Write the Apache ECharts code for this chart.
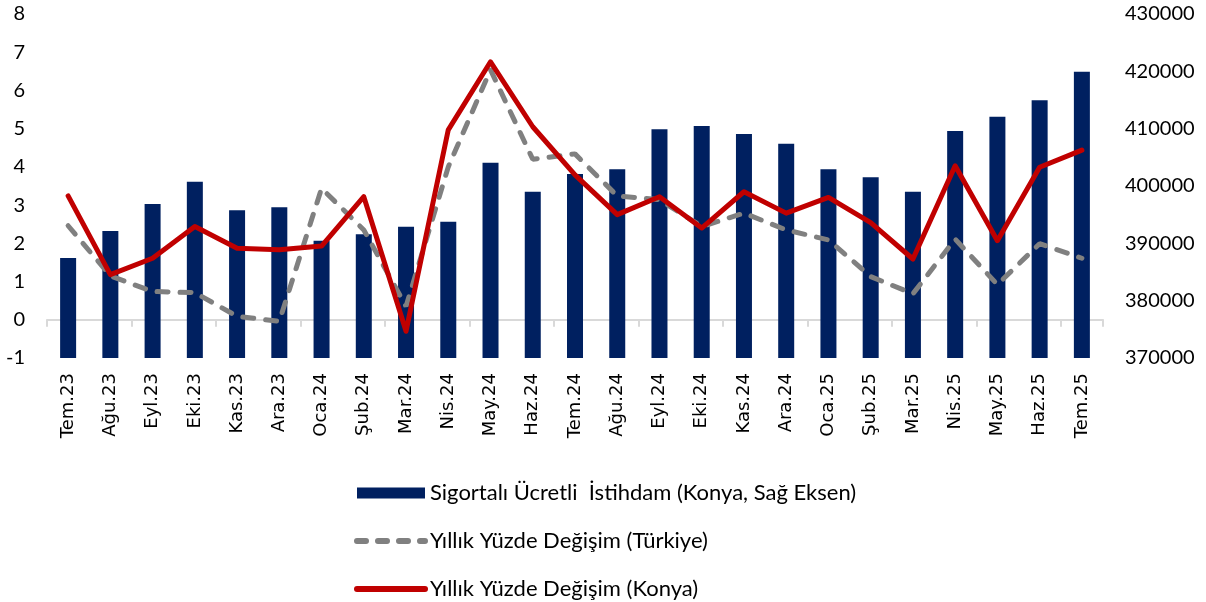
<!DOCTYPE html>
<html>
<head>
<meta charset="utf-8">
<script src="https://cdn.jsdelivr.net/npm/echarts@6/dist/echarts.min.js"></script>
<style>
html,body{margin:0;padding:0;background:#fff;}
#chart{width:1206px;height:602px;}
</style>
</head>
<body>
<div id="chart"></div>
<script>
const categories = ["Tem.23","Ağu.23","Eyl.23","Eki.23","Kas.23","Ara.23","Oca.24","Şub.24","Mar.24","Nis.24","May.24","Haz.24","Tem.24","Ağu.24","Eyl.24","Eki.24","Kas.24","Ara.24","Oca.25","Şub.25","Mar.25","Nis.25","May.25","Haz.25","Tem.25"];
const employmentKonya = [387440,392150,396860,400750,395760,396280,390460,391570,392900,393780,404070,399010,402090,402910,409890,410470,409070,407380,402910,401520,399010,409590,412090,414950,419940];
const changeTurkiye = [2.46,1.15,0.74,0.71,0.09,-0.04,3.44,2.35,0.35,4.0,6.54,4.20,4.34,3.24,3.14,2.44,2.79,2.35,2.09,1.13,0.68,2.11,0.92,1.99,1.61];
const changeKonya = [3.24,1.18,1.61,2.44,1.87,1.83,1.93,3.22,-0.30,4.97,6.75,5.05,3.79,2.75,3.22,2.40,3.35,2.79,3.20,2.54,1.59,4.03,2.07,3.99,4.44];
const seriesNames = ["Sigortalı Ücretli  İstihdam (Konya, Sağ Eksen)","Yıllık Yüzde Değişim (Türkiye)","Yıllık Yüzde Değişim (Konya)"];

const chart = echarts.init(document.getElementById('chart'), null, {renderer:'canvas'});
const axisFont = {fontFamily:'Lato', fontSize:20, color:'#000'};
chart.setOption({
  animation:false,
  backgroundColor:'#fff',
  grid:{left:47, right:103, top:14, bottom:244, containLabel:false},
  legend:{
    orient:'vertical', left:354, top:482, itemGap:26, padding:0,
    itemWidth:68, itemHeight:11,
    textStyle:{fontFamily:'Lato', fontSize:22, color:'#000'},
    data:[
      {name:seriesNames[0], icon:'rect'},
      {name:seriesNames[1], itemStyle:{opacity:0}, lineStyle:{width:6, color:'#808080', type:[9,12], cap:'round'}},
      {name:seriesNames[2], itemStyle:{opacity:0}, lineStyle:{width:6, color:'#C00000', cap:'round'}}
    ]
  },
  xAxis:[
    {type:'category', data:categories, position:'bottom',
     axisLine:{show:false, onZero:false}, axisTick:{show:false},
     axisLabel:{interval:0, rotate:90, margin:15, fontFamily:'DejaVu Sans', fontSize:18, color:'#000'}},
    {type:'category', data:categories, position:'bottom',
     axisLine:{show:true, onZero:true, onZeroAxisIndex:0, lineStyle:{color:'#d9d9d9', width:2}},
     axisTick:{show:true, length:7, lineStyle:{color:'#d9d9d9', width:2}},
     axisLabel:{show:false}}
  ],
  yAxis:[
    {type:'value', min:-1, max:8, interval:1, position:'left',
     axisLine:{show:false}, axisTick:{show:false}, splitLine:{show:false},
     axisLabel:Object.assign({margin:22}, axisFont)},
    {type:'value', min:370000, max:430000, interval:10000, position:'right',
     axisLine:{show:false}, axisTick:{show:false}, splitLine:{show:false},
     axisLabel:Object.assign({margin:22, formatter:function(v){return String(v);}}, axisFont)}
  ],
  series:[
    {name:seriesNames[0], type:'bar', data:employmentKonya, xAxisIndex:0, yAxisIndex:1,
     barWidth:16, clip:true, itemStyle:{color:'#002060'}},
    {name:seriesNames[1], type:'line', data:changeTurkiye, xAxisIndex:0, yAxisIndex:0,
     symbol:'none', showSymbol:false,
     lineStyle:{color:'#808080', width:5, type:[11,12], cap:'round'}, itemStyle:{color:'#808080'}},
    {name:seriesNames[2], type:'line', data:changeKonya, xAxisIndex:0, yAxisIndex:0,
     symbol:'none', showSymbol:false,
     lineStyle:{color:'#C00000', width:5, cap:'round', join:'round'}, itemStyle:{color:'#C00000'}}
  ]
});
</script>
</body>
</html>
